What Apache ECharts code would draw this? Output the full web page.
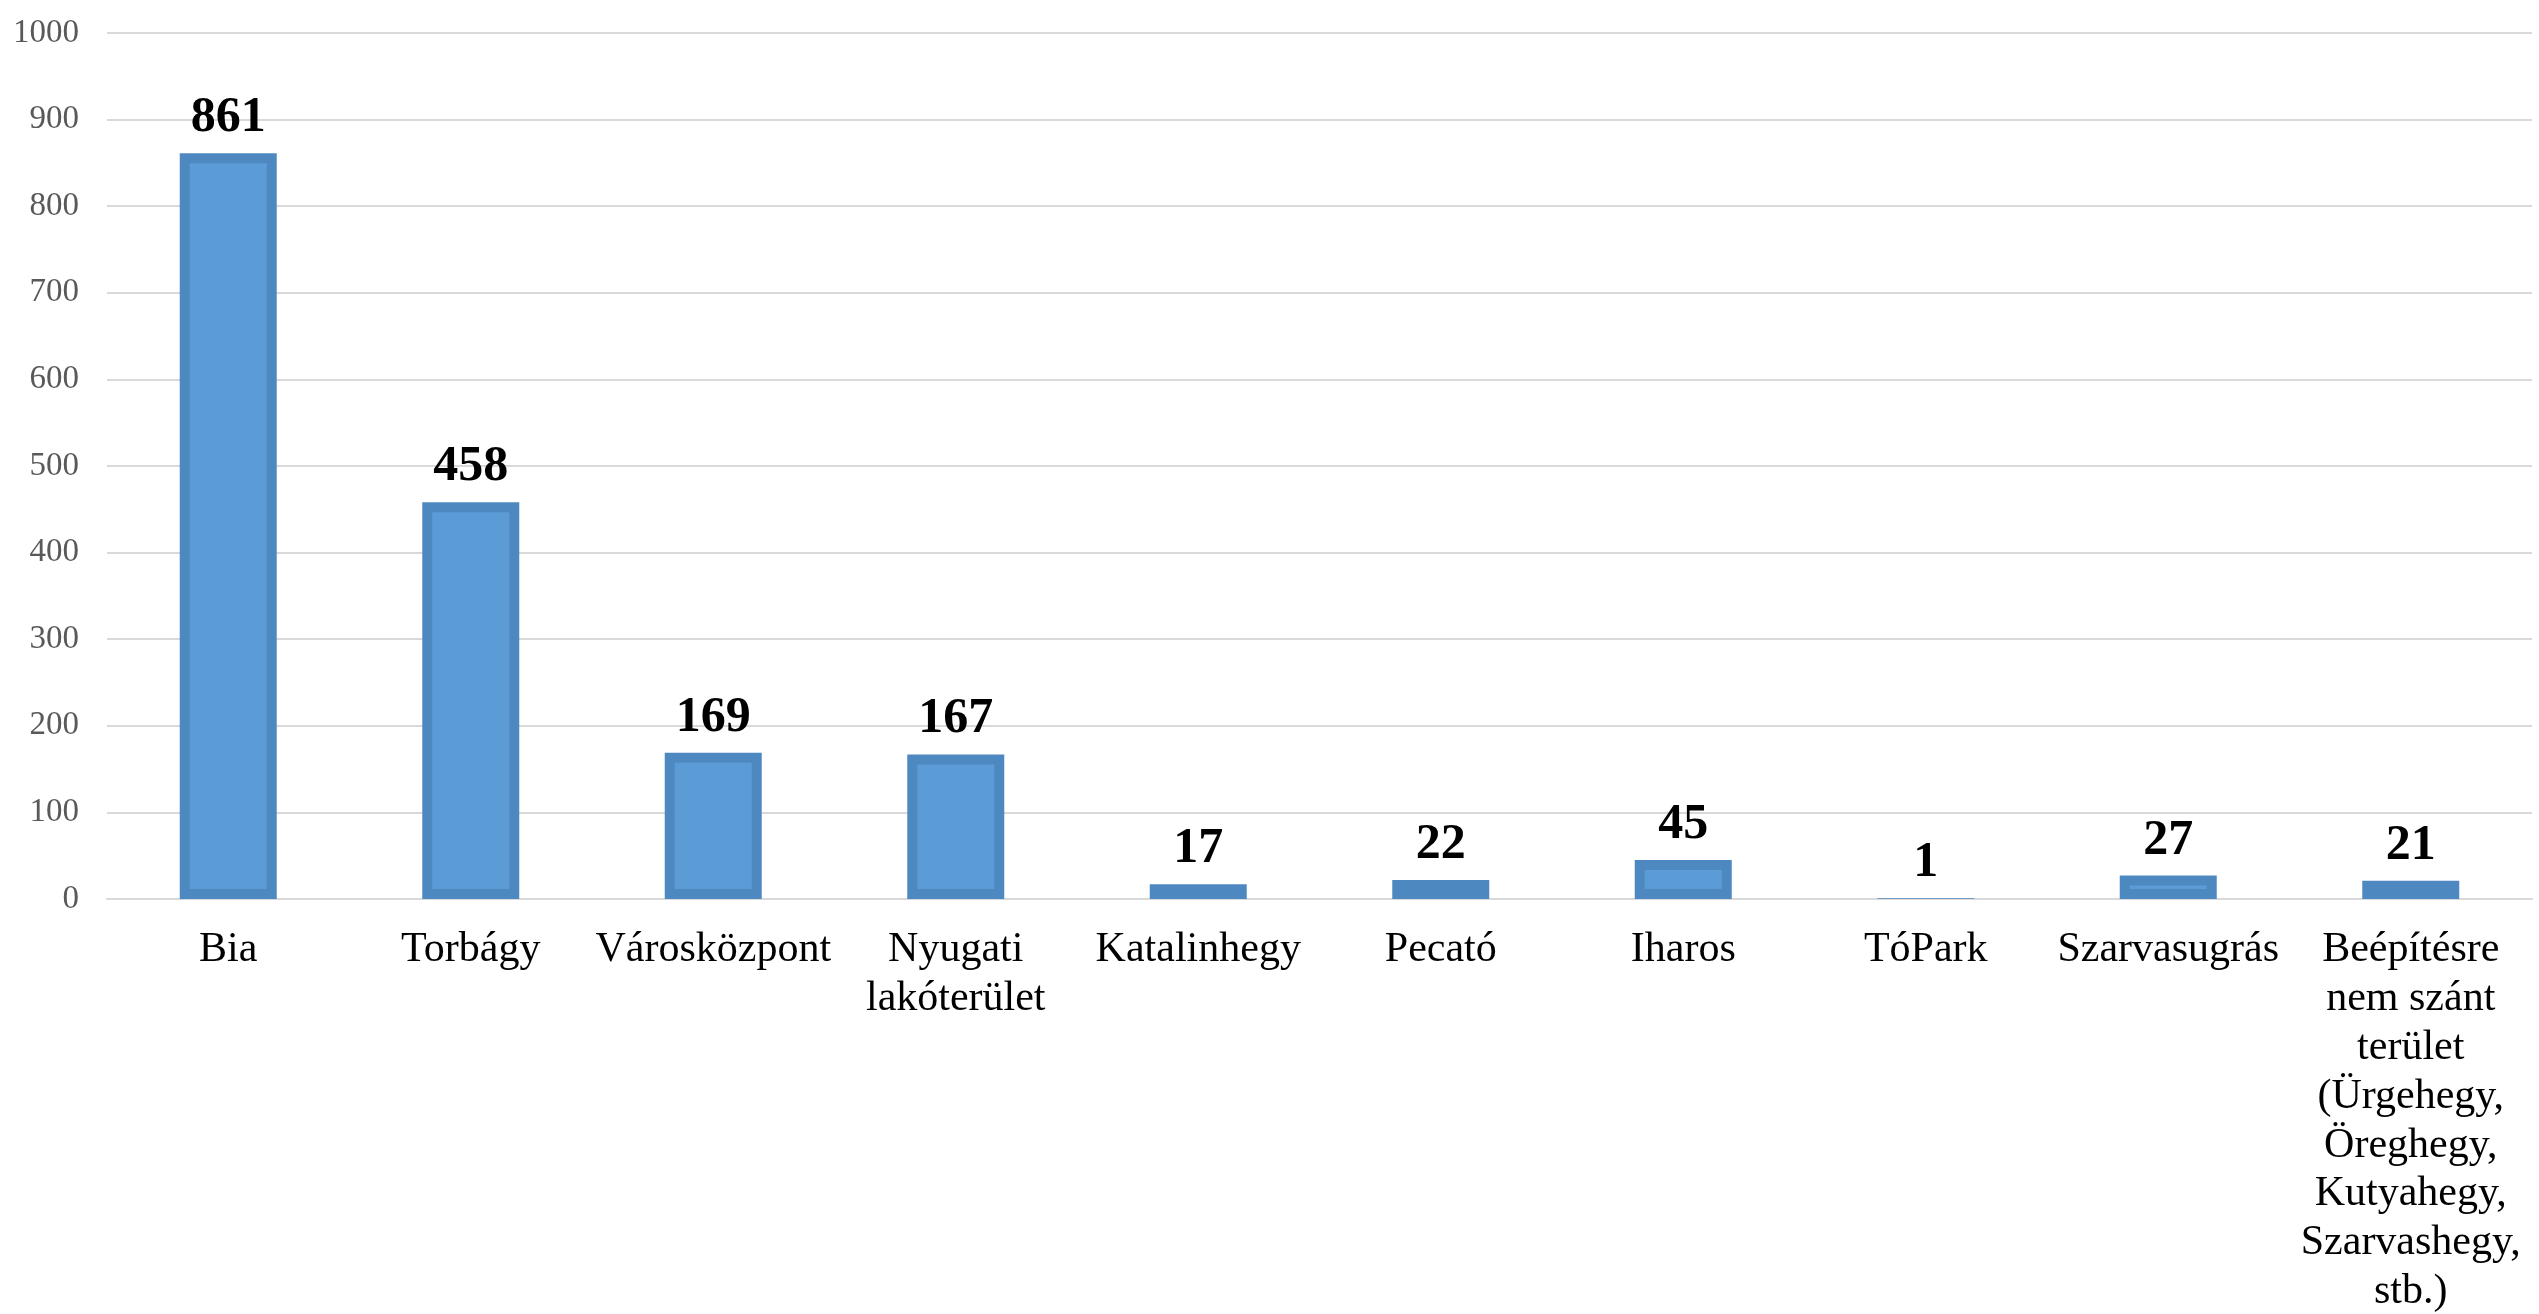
<!DOCTYPE html>
<html>
<head>
<meta charset="utf-8">
<script src="https://cdn.jsdelivr.net/npm/echarts@6/dist/echarts.min.js"></script>
<style>
html,body{margin:0;padding:0;background:#fff;overflow:hidden;}
#chart{width:2539px;height:1314px;}
</style>
</head>
<body>
<div id="chart"></div>
<script>
const categories = [
  'Bia',
  'Torbágy',
  'Városközpont',
  'Nyugati\nlakóterület',
  'Katalinhegy',
  'Pecató',
  'Iharos',
  'TóPark',
  'Szarvasugrás',
  'Beépítésre\nnem szánt\nterület\n(Ürgehegy,\nÖreghegy,\nKutyahegy,\nSzarvashegy,\nstb.)'
];
const values = [861, 458, 169, 167, 17, 22, 45, 1, 27, 21];
const yTicks = { min: 0, max: 1000, interval: 100 };

const outerColor = '#4E88C0';
const innerColor = '#5B9BD6';
const inset = 10;
const barRatio = 0.4;

const chart = echarts.init(document.getElementById('chart'), null, { width: 2539, height: 1314 });
chart.setOption({
  animation: false,
  backgroundColor: '#ffffff',
  grid: { left: 107, right: 7, top: 33, bottom: 415, containLabel: false, outerBoundsMode: 'none' },
  xAxis: {
    type: 'category',
    data: categories,
    axisTick: { show: false },
    axisLine: { lineStyle: { color: '#D9D9D9', width: 2 } },
    axisLabel: {
      interval: 0,
      margin: 27,
      fontFamily: 'Liberation Serif',
      fontSize: 42,
      lineHeight: 48.8,
      color: '#000000',
      align: 'center'
    }
  },
  yAxis: {
    type: 'value',
    min: yTicks.min,
    max: yTicks.max,
    interval: yTicks.interval,
    axisLine: { show: false },
    axisTick: { show: false },
    splitLine: { lineStyle: { color: '#D9D9D9', width: 2 } },
    axisLabel: {
      margin: 28,
      fontFamily: 'Liberation Serif',
      fontSize: 33,
      color: '#595959',
      formatter: function (v) { return String(v); }
    }
  },
  series: [
    {
      type: 'bar',
      data: values,
      barWidth: (barRatio * 100) + '%',
      itemStyle: { color: outerColor },
      z: 2,
      label: {
        show: true,
        position: 'top',
        distance: 10,
        fontFamily: 'Liberation Serif',
        fontWeight: 'bold',
        fontSize: 50,
        color: '#000000'
      }
    },
    {
      type: 'custom',
      data: values.map((v, i) => [i, v]),
      encode: { x: 0, y: 1 },
      z: 3,
      silent: true,
      renderItem: function (params, api) {
        const top = api.coord([api.value(0), api.value(1)]);
        const base = api.coord([api.value(0), 0]);
        const w = api.size([1, 0])[0] * barRatio;
        const h = base[1] - top[1];
        if (h <= 2 * inset + 2) return null;
        return {
          type: 'rect',
          shape: {
            x: top[0] - w / 2 + inset,
            y: top[1] + inset,
            width: w - 2 * inset,
            height: h - 2 * inset
          },
          style: { fill: innerColor }
        };
      }
    }
  ]
});
</script>
</body>
</html>
